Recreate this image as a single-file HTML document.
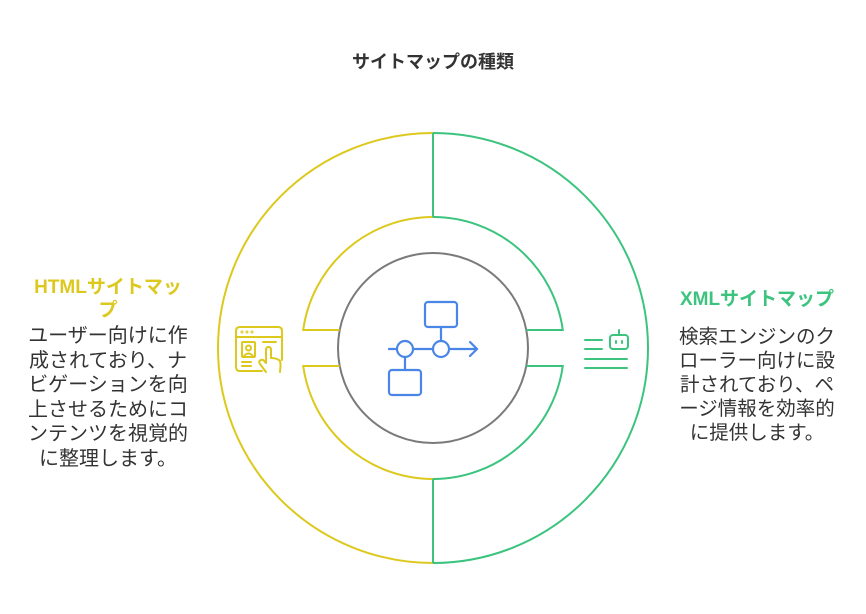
<!DOCTYPE html>
<html><head><meta charset="utf-8"><style>
html,body{margin:0;padding:0;background:#fff;}
body{width:866px;height:614px;position:relative;overflow:hidden;font-family:"Liberation Sans","Noto Sans CJK JP",sans-serif;}
.t{position:absolute;text-align:center;white-space:nowrap;}
</style></head><body>
<svg width="866" height="614" style="position:absolute;left:0;top:0" fill="none" stroke-width="2">
<circle cx="433" cy="348" r="95" stroke="#7a7a7a"/>
<g stroke="#DDC81E">
<path d="M433,133 A215,215 0 0 0 433,563"/>
<path d="M433,217 A131,131 0 0 0 303.2,330 L339.7,330"/>
<path d="M339.7,366 L303.2,366 A131,131 0 0 0 433,479"/>
</g>
<g stroke="#3CC47F">
<path d="M433,133 A215,215 0 0 1 433,563"/>
<path d="M433,217 A131,131 0 0 1 562.8,330 L526.3,330"/>
<path d="M526.3,366 L562.8,366 A131,131 0 0 1 433,479"/>
<path d="M433,133 L433,217 M433,479 L433,563"/>
</g>
<g stroke="#4A86E8" stroke-width="2.2" stroke-linecap="round">
<rect x="425" y="302" width="32" height="25" rx="3"/>
<rect x="389" y="370" width="32" height="25" rx="3"/>
<circle cx="405" cy="349" r="8"/>
<circle cx="441" cy="349" r="8"/>
<path d="M389,349 L397,349 M413,349 L433,349 M449,349 L477,349 M470,342 L477,349 L470,356 M441,327 L441,341 M405,357 L405,370"/>
</g>
<g stroke="#DDC81E" stroke-width="2" stroke-linecap="round" stroke-linejoin="round">
<path d="M262,371 L240,371 Q236,371 236,367 L236,331 Q236,327 240,327 L278,327 Q282,327 282,331 L282,360"/>
<path d="M236,337 L282,337"/>
<circle cx="242" cy="332" r="0.5"/><circle cx="247" cy="332" r="0.5"/><circle cx="252" cy="332" r="0.5"/>
<rect x="242" y="342" width="13" height="15" rx="1"/>
<circle cx="248.5" cy="348" r="2.5"/>
<path d="M244,356 Q248.5,351 253,356"/>
<path d="M263,342 L276,342 M242,362 L251,362 M242,366 L251,366"/>
<path d="M266,372 L260,364 Q258,361 261,360 Q263,359 265,362 L266,363 L266,350 Q266,347 268.5,347 Q271,347 271,350 L271,358 Q277,358 280,361 Q281,364 280,372"/>
</g>
<g stroke="#3CC47F" stroke-width="2" stroke-linecap="round">
<path d="M585,340 L602,340 M585,349 L602,349 M585,359 L627,359 M585,368 L627,368"/>
<rect x="610" y="335" width="18" height="14" rx="3"/>
<path d="M619,330 L619,335"/>
<path d="M616,341 L616,343 M622,341 L622,343"/>
</g>
</svg>
<div class="t" style="left:283px;top:48px;width:300px;font-size:18px;font-weight:bold;color:#333;">サイトマップの種類</div>
<div class="t" style="left:10px;top:276px;width:196px;font-size:19px;font-weight:bold;color:#DDC81E;line-height:23px;">HTMLサイトマッ<br>プ</div>
<div class="t" style="left:10px;top:324px;width:196px;font-size:20px;color:#333;line-height:24.6px;">ユーザー向けに作<br>成されており、ナ<br>ビゲーションを向<br>上させるためにコ<br>ンテンツを視覚的<br>に整理します。</div>
<div class="t" style="left:657px;top:288px;width:200px;font-size:19px;font-weight:bold;color:#3CC47F;line-height:23px;">XMLサイトマップ</div>
<div class="t" style="left:657px;top:325px;width:200px;font-size:19.5px;color:#333;line-height:24px;">検索エンジンのク<br>ローラー向けに設<br>計されており、ペ<br>ージ情報を効率的<br>に提供します。</div>
</body></html>
